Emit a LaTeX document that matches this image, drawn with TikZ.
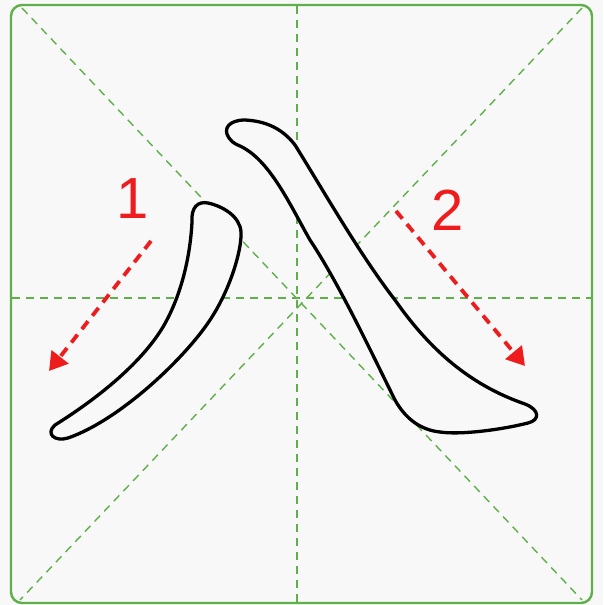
\documentclass[tikz,border=0pt]{standalone}
\usepackage{fontspec}
\setmainfont{Liberation Sans}
\usetikzlibrary{arrows.meta}
\definecolor{gridgreen}{RGB}{95,175,75}
\definecolor{arrowred}{RGB}{238,28,28}
\definecolor{bg}{RGB}{248,248,248}
\tikzset{
  guide/.style={gridgreen, line width=1.4pt, dash pattern=on 8pt off 6pt},
  strokeline/.style={black, line width=3.3pt, line join=round},
  orderarrow/.style={arrowred, line width=3.8pt, dash pattern=on 10pt off 7pt, -{Triangle[length=18pt,width=21pt]}},
  num/.style={arrowred, font=\fontsize{58}{58}\selectfont, inner sep=0pt, anchor=base}
}
\begin{document}
\begin{tikzpicture}[x=1pt,y=-1pt]
\fill[bg] (0,0) rectangle (603,605);
\useasboundingbox (0,0) rectangle (603,605);
% frame
\draw[gridgreen, line width=2.4pt, rounded corners=11pt] (11,5) rectangle (592,603);
% guides
\coordinate (tl) at (22,8);
\coordinate (br) at (582,600);
\coordinate (tr) at (582,8);
\coordinate (bl) at (20,600);
\draw[guide] (tl) -- (br);
\draw[guide] (tr) -- (bl);
\draw[guide] (297,6) -- (297,602);
\draw[guide] (12,298) -- (591,298);
% stroke 1
\draw[strokeline, fill=bg] (192,222)
  .. controls (191,207) and (198,201) .. (208,203)
  .. controls (222,206) and (240,216) .. (241,232)
  .. controls (242,250) and (230,290) .. (210,320)
  .. controls (185,358) and (120,420) .. (68,438)
  .. controls (55,442) and (45,434) .. (55,425)
  .. controls (95,400) and (140,365) .. (163,327)
  .. controls (180,298) and (190,260) .. (192,222) -- cycle;
% stroke 2
\draw[strokeline, fill=bg] (229,138)
  .. controls (222,128) and (230,120) .. (245,120)
  .. controls (265,121) and (282,128) .. (295,145)
  .. controls (320,185) and (360,255) .. (395,300)
  .. controls (430,350) and (470,385) .. (525,404)
  .. controls (540,410) and (540,420) .. (528,423)
  .. controls (500,430) and (460,435) .. (440,432)
  .. controls (420,430) and (405,418) .. (395,400)
  .. controls (375,360) and (340,285) .. (310,240)
  .. controls (290,205) and (270,160) .. (240,146)
  .. controls (233,143) and (231,141) .. (229,138) -- cycle;
% arrows
\coordinate (a1s) at (151,241);
\coordinate (a1e) at (49,371);
\coordinate (a2s) at (396,211);
\coordinate (a2e) at (525,366);
\draw[orderarrow] (a1s) -- (a1e);
\draw[orderarrow] (a2s) -- (a2e);
\node[num] (n1) at (133,218) {1};
\node[num] (n2) at (448,230) {2};
\end{tikzpicture}
\end{document}
